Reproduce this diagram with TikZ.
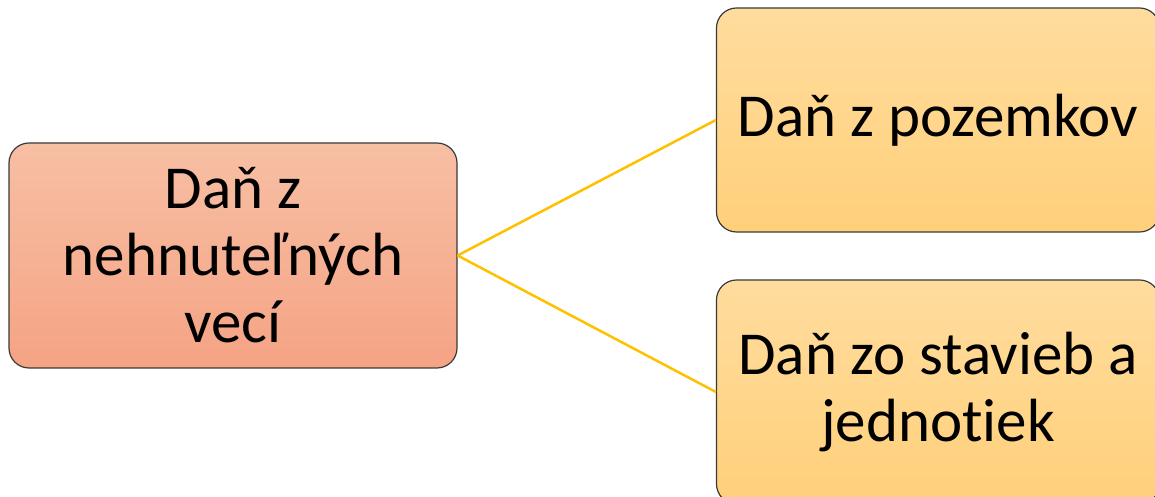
\documentclass[tikz,border=0pt]{standalone}
\usepackage{fontspec}
\setmainfont{Carlito}[RawFeature=-liga]
\definecolor{salmonTop}{HTML}{F7BFA4}
\definecolor{salmonBot}{HTML}{F5A384}
\definecolor{goldTop}{HTML}{FFDC9E}
\definecolor{goldBot}{HTML}{FFD07A}
\definecolor{linkcol}{HTML}{FFC000}
\definecolor{edgecol}{HTML}{3A3A3A}
\tikzset{
  box/.style={draw=edgecol, line width=1.2pt, rectangle, rounded corners=20pt,
    align=flush center, font=\fontsize{61}{67}\selectfont, inner sep=0pt},
  leftbox/.style={box, top color=salmonTop, bottom color=salmonBot,
    minimum width=448pt, minimum height=225pt, text width=420pt},
  rightbox/.style={box, top color=goldTop, bottom color=goldBot,
    minimum width=443pt, minimum height=224pt, text width=435pt},
  link/.style={draw=linkcol, line width=2.5pt}
}
\begin{document}
\begin{tikzpicture}[x=1pt,y=1pt]
\useasboundingbox (0,0) rectangle (1155,497);
\clip (0,0) rectangle (1155,497);
\node[leftbox] (src) at (233,241.5) {Daň z\\nehnuteľných\\vecí};
\node[rightbox] (top) at (938,377) {Daň z pozemkov};
\node[rightbox] (bot) at (938,105) {Daň zo stavieb a\\jednotiek};
\draw[link] (src.east) -- (top.west);
\draw[link] (src.east) -- (bot.west);
\end{tikzpicture}
\end{document}
